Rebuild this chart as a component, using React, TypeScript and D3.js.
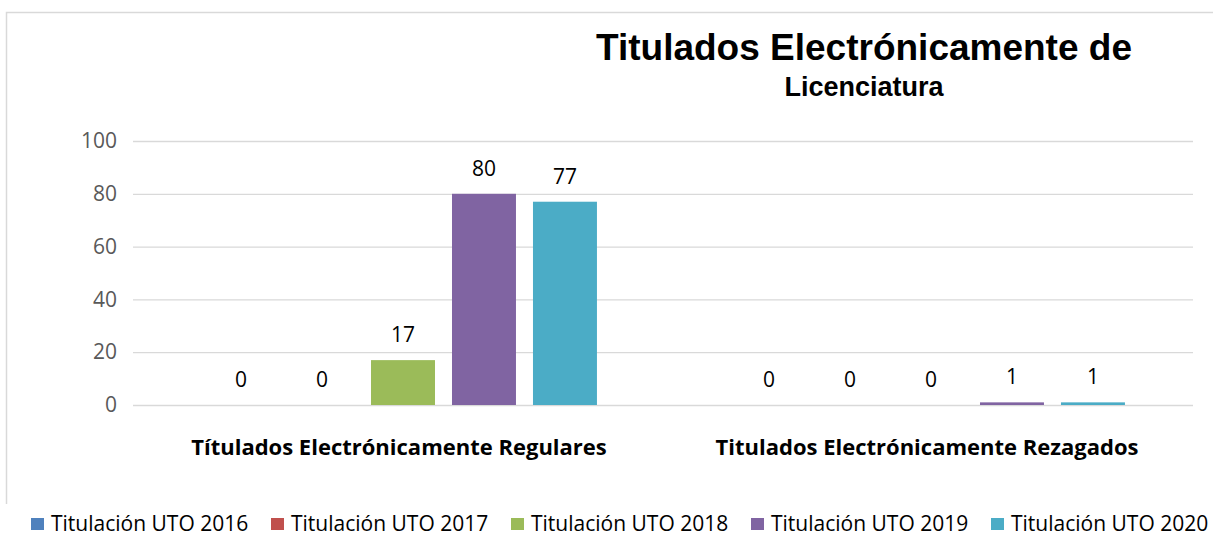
import React, { useEffect, useRef } from "react";
import { select, scaleBand, scaleLinear, axisLeft } from "d3";

const categories = ["Títulados Electrónicamente Regulares", "Titulados Electrónicamente Rezagados"];
const series = ["Titulación UTO 2016", "Titulación UTO 2017", "Titulación UTO 2018", "Titulación UTO 2019", "Titulación UTO 2020"];
const values2016 = [0, 0];
const values2017 = [0, 0];
const values2018 = [17, 0];
const values2019 = [80, 1];
const values2020 = [77, 1];
const yTicks = [0, 20, 40, 60, 80, 100];
const colors = ["#4f81bd", "#c0504d", "#9bbb59", "#8064a2", "#4bacc6"];

const allValues = [values2016, values2017, values2018, values2019, values2020];
const bodyFont = "Open Sans, Lato, sans-serif";

export default function App() {
  const ref = useRef<SVGSVGElement>(null);

  useEffect(() => {
    const svg = select(ref.current);
    svg.selectAll("*").remove();

    // frame (only top and left edges are visible)
    svg.append("path")
      .attr("d", "M6.5,504 V12.5 H1213")
      .attr("fill", "none")
      .attr("stroke", "#d9d9d9")
      .attr("stroke-width", 1.5);

    // title
    svg.append("text")
      .attr("x", 864).attr("y", 60)
      .attr("text-anchor", "middle")
      .attr("font-family", "Liberation Sans, Arial")
      .attr("font-weight", "bold")
      .attr("font-size", 37)
      .attr("fill", "#000")
      .text("Titulados Electrónicamente de");
    svg.append("text")
      .attr("x", 864).attr("y", 96)
      .attr("text-anchor", "middle")
      .attr("font-family", "Liberation Sans, Arial")
      .attr("font-weight", "bold")
      .attr("font-size", 27)
      .attr("fill", "#000")
      .text("Licenciatura");

    const yScale = scaleLinear().domain([0, 100]).range([405, 141]);
    const x0 = scaleBand().domain(categories).range([139, 1195]);
    const x1 = scaleBand().domain(series).range([0, x0.bandwidth()]).paddingInner(0.21).paddingOuter(0.865);

    // gridlines + y labels
    const yAxis = axisLeft(yScale).tickValues(yTicks).tickSize(-1060).tickPadding(16);
    const gy = svg.append("g").attr("transform", "translate(133,0)").call(yAxis);
    gy.select(".domain").remove();
    gy.selectAll(".tick line").attr("stroke", "#d9d9d9").attr("stroke-width", 1.3);
    gy.selectAll(".tick text")
      .attr("font-family", bodyFont)
      .attr("font-size", 21)
      .attr("fill", "#595959");

    // bars
    const groups = svg.append("g").selectAll("g")
      .data(categories)
      .join("g")
      .attr("transform", d => `translate(${x0(d)},0)`);

    groups.selectAll("rect")
      .data((_, i) => series.map((s, k) => ({ s, v: allValues[k][i], c: colors[k] })))
      .join("rect")
      .attr("x", d => x1(d.s) as number)
      .attr("y", d => yScale(d.v))
      .attr("width", x1.bandwidth())
      .attr("height", d => yScale(0) - yScale(d.v))
      .attr("fill", d => d.c);

    groups.selectAll("text")
      .data((_, i) => series.map((s, k) => ({ s, v: allValues[k][i] })))
      .join("text")
      .attr("x", d => (x1(d.s) as number) + x1.bandwidth() / 2)
      .attr("y", d => yScale(d.v) - 18)
      .attr("text-anchor", "middle")
      .attr("font-family", bodyFont)
      .attr("font-size", 21)
      .attr("fill", "#000")
      .text(d => d.v);

    // category labels
    svg.append("g").selectAll("text")
      .data(categories)
      .join("text")
      .attr("x", d => (x0(d) as number) + x0.bandwidth() / 2 - 4)
      .attr("y", 455)
      .attr("text-anchor", "middle")
      .attr("font-family", bodyFont)
      .attr("font-weight", "bold")
      .attr("font-size", 22)
      .attr("fill", "#000")
      .text(d => d);

    // legend
    const legend = svg.append("g").selectAll("g")
      .data(series)
      .join("g")
      .attr("transform", (_, i) => `translate(${31 + i * 240},0)`);
    legend.append("rect")
      .attr("x", 0).attr("y", 518)
      .attr("width", 13).attr("height", 12)
      .attr("fill", (_, i) => colors[i]);
    legend.append("text")
      .attr("x", 20).attr("y", 531)
      .attr("font-family", bodyFont)
      .attr("font-size", 21)
      .attr("fill", "#000")
      .text(d => d);
  }, []);

  return (
    <svg ref={ref} width={1213} height={540}
      style={{ position: "absolute", left: 0, top: 0, background: "#fff" }} />
  );
}
